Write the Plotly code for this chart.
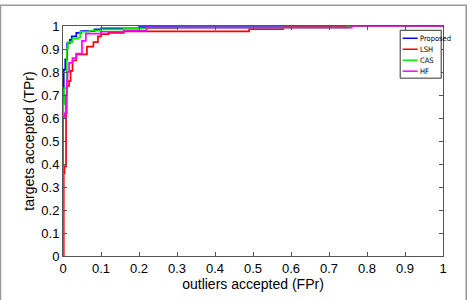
import plotly.graph_objects as go

# ROC step points: (FPr at which the step occurs, TPr after the step)
prop_fpr = [0, 0, 0.002, 0.006, 0.011, 0.018, 0.023, 0.035, 0.048, 0.083, 0.10, 0.20, 0.63, 1.0]
prop_tpr = [0, 0.73, 0.81, 0.855, 0.925, 0.94, 0.955, 0.97, 0.978, 0.985, 0.99, 0.995, 1.0, 1.0]

lsh_fpr = [0, 0.002, 0.004, 0.008, 0.010, 0.016, 0.020, 0.025, 0.035, 0.063, 0.080, 0.092, 0.10, 0.12, 0.16, 0.49, 0.58, 0.72, 1.0]
lsh_tpr = [0, 0.36, 0.39, 0.70, 0.74, 0.76, 0.805, 0.85, 0.877, 0.91, 0.93, 0.955, 0.965, 0.97, 0.977, 0.986, 0.995, 1.0, 1.0]

cas_fpr = [0, 0, 0.001, 0.003, 0.010, 0.013, 0.025, 0.040, 0.045, 0.070, 0.10, 0.16, 0.30, 0.75, 1.0]
cas_tpr = [0, 0.61, 0.66, 0.73, 0.90, 0.93, 0.945, 0.95, 0.975, 0.98, 0.985, 0.99, 0.993, 1.0, 1.0]

hf_fpr = [0, 0, 0.003, 0.005, 0.010, 0.012, 0.016, 0.025, 0.035, 0.050, 0.060, 0.10, 0.16, 0.22, 0.76, 1.0]
hf_tpr = [0, 0.60, 0.61, 0.62, 0.76, 0.80, 0.84, 0.86, 0.88, 0.935, 0.967, 0.975, 0.98, 0.993, 1.0, 1.0]

names = ["Proposed", "LSH", "CAS", "HF"]
colors = ["#0000ff", "#ff0000", "#00ee00", "#ff00ff"]
series = [(prop_fpr, prop_tpr), (lsh_fpr, lsh_tpr), (cas_fpr, cas_tpr), (hf_fpr, hf_tpr)]

tick_vals = [0, 0.1, 0.2, 0.3, 0.4, 0.5, 0.6, 0.7, 0.8, 0.9, 1]
tick_text = ["0", "0.1", "0.2", "0.3", "0.4", "0.5", "0.6", "0.7", "0.8", "0.9", "1"]

# plot-area geometry in pixels (for the hand-drawn MATLAB-style legend)
L, R, T, B = 63.3, 443.3, 25.7, 256.3
def px(x): return (x - L) / (R - L)
def py(y): return (B - y) / (B - T)

fig = go.Figure()
for (xs, ys), n, c in zip(series, names, colors):
    fig.add_trace(go.Scatter(x=xs, y=ys, mode="lines", name=n, showlegend=False,
                             line=dict(color=c, width=1.7, shape="hv")))

axis_common = dict(range=[0, 1], tickvals=tick_vals, ticktext=tick_text,
                   ticks="inside", ticklen=4, tickcolor="#555",
                   showline=True, linecolor="#555", linewidth=1, mirror="ticks",
                   showgrid=False, zeroline=False,
                   tickfont=dict(family="Liberation Sans", size=13, color="black"))

fig.update_xaxes(**axis_common,
                 title=dict(text="outliers accepted (FPr)", standoff=4,
                            font=dict(family="Liberation Sans", size=14, color="black")))
fig.update_yaxes(**axis_common,
                 title=dict(text="targets accepted (TPr)", standoff=3,
                            font=dict(family="Liberation Sans", size=14, color="black")))

shapes = [dict(type="rect", xref="paper", yref="paper",
               x0=px(0.8), x1=px(466.5), y0=py(310), y1=py(5),
               line=dict(color="#999", width=1.5), layer="below"),
          dict(type="rect", xref="paper", yref="paper",
               x0=px(400.5), x1=px(441.5), y0=py(78), y1=py(30),
               line=dict(color="#333", width=1), fillcolor="white")]
annotations = []
leg_y = [38, 49, 60, 71]
for n, c, yy in zip(names, colors, leg_y):
    shapes.append(dict(type="line", xref="paper", yref="paper",
                       x0=px(403), x1=px(418), y0=py(yy), y1=py(yy),
                       line=dict(color=c, width=1.5)))
    annotations.append(dict(xref="paper", yref="paper", x=px(418.5), y=py(yy),
                            xanchor="left", yanchor="middle", showarrow=False,
                            text=n, font=dict(family="Liberation Sans Narrow, DejaVu Sans Condensed",
                                              size=7.5, color="black")))

fig.update_layout(
    width=470, height=300,
    margin=dict(l=63, r=27, t=26, b=44, autoexpand=False),
    paper_bgcolor="white", plot_bgcolor="white",
    showlegend=False,
    shapes=shapes, annotations=annotations,
)

fig.write_html("out.html")
